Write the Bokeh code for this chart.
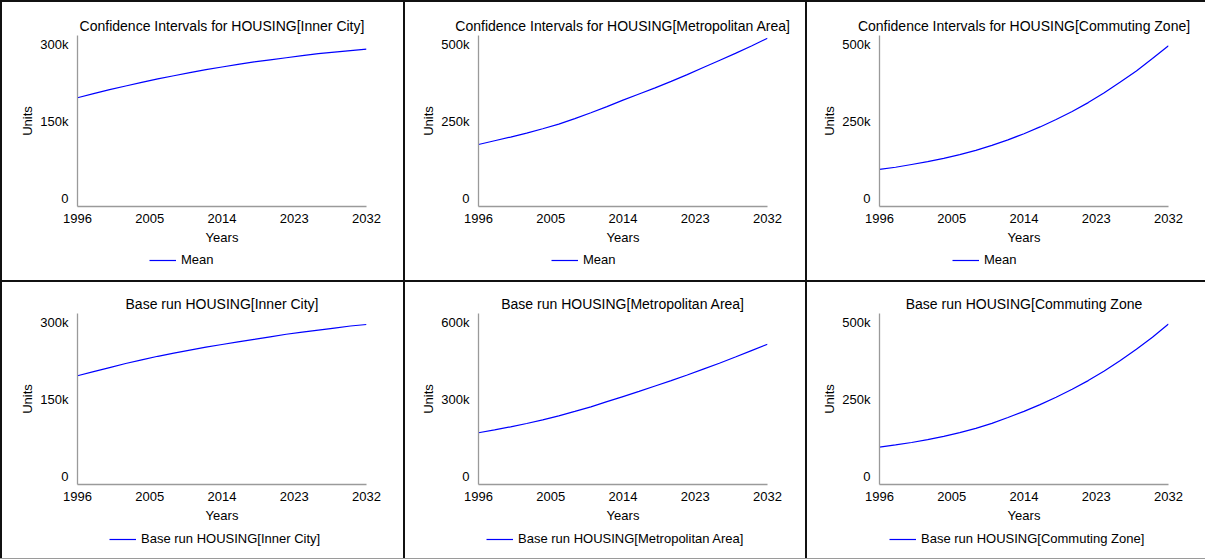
from bokeh.plotting import figure
from bokeh.layouts import column
from bokeh.models import GridBox, Range1d, FixedTicker, Legend, LegendItem
from bokeh.embed import file_html
from bokeh.resources import INLINE

# Simulation output, housing stock (units) per region, 1996-2032
years = [1996, 1998, 2000, 2002, 2004, 2006, 2008, 2010, 2012, 2014,
         2016, 2018, 2020, 2022, 2024, 2026, 2028, 2030, 2032]
x_ticks = [1996, 2005, 2014, 2023, 2032]

mean_inner_city = [196000, 204000, 212000, 219000, 226000, 233000, 239000, 245000, 251000, 256000,
                   261000, 266000, 270000, 274000, 278000, 282000, 285000, 288000, 291000]
mean_metro = [175000, 187000, 199000, 212000, 226000, 241000, 259000, 278000, 298000, 319000,
              339000, 359000, 380000, 402000, 425000, 448000, 471000, 495000, 520000]
mean_commuting = [94000, 101000, 110000, 119000, 130000, 142000, 156000, 172000, 190000, 210000,
                  232000, 256000, 282000, 311000, 343000, 378000, 414000, 454000, 496000]

base_inner_city = [196000, 204000, 212000, 220000, 227000, 234000, 240000, 246000, 252000, 257000,
                   262000, 267000, 272000, 277000, 281000, 285000, 289000, 293000, 296000]
base_metro = [170000, 181000, 193000, 206000, 220000, 236000, 253000, 271000, 291000, 311000,
              331000, 352000, 373000, 395000, 418000, 441000, 465000, 490000, 515000]
base_commuting = [95000, 102000, 110000, 119000, 130000, 142000, 156000, 172000, 191000, 211000,
                  233000, 257000, 283000, 311000, 342000, 376000, 413000, 452000, 495000]

ticks_300k = [0, 150000, 300000]
labels_300k = ["0", "150k", "300k"]
ticks_500k = [0, 250000, 500000]
labels_500k = ["0", "250k", "500k"]
ticks_600k = [0, 300000, 600000]
labels_600k = ["0", "300k", "600k"]

FONT = "Liberation Sans"
FONT_SIZE = "13px"
TITLE_SIZE = "14px"
LINE_COLOR = "#0000ff"
LINE_WIDTH = 1.2
AXIS_COLOR = "#9a9a9a"

col_widths = [401, 400, 398]
row_heights = [278, 276]
plot_heights = [245, 243]
left_borders = [75, 73, 72]
right_borders = [37, 38, 37]
top_borders = [33, 31]
legend_y = [13, 12]

panels = [
    # (row, col, title, values, legend label, ticks, tick labels, legend x)
    (0, 0, "Confidence Intervals for HOUSING[Inner City]", mean_inner_city, "Mean",
     ticks_300k, labels_300k, 72),
    (0, 1, "Confidence Intervals for HOUSING[Metropolitan Area]", mean_metro, "Mean",
     ticks_500k, labels_500k, 73),
    (0, 2, "Confidence Intervals for HOUSING[Commuting Zone]", mean_commuting, "Mean",
     ticks_500k, labels_500k, 73),
    (1, 0, "Base run HOUSING[Inner City]", base_inner_city, "Base run HOUSING[Inner City]",
     ticks_300k, labels_300k, 32),
    (1, 1, "Base run HOUSING[Metropolitan Area]", base_metro, "Base run HOUSING[Metropolitan Area]",
     ticks_600k, labels_600k, 8),
    (1, 2, "Base run HOUSING[Commuting Zone", base_commuting, "Base run HOUSING[Commuting Zone]",
     ticks_500k, labels_500k, 10),
]


def make_chart(row, col, title, values, ticks, tick_labels):
    top = ticks[-1]
    p = figure(
        width=col_widths[col], height=plot_heights[row],
        output_backend="svg", toolbar_location=None,
        x_range=Range1d(years[0], years[-1]),
        y_range=Range1d(-0.053 * top, 1.058 * top),
        min_border_left=left_borders[col], min_border_right=right_borders[col],
        min_border_top=top_borders[row], min_border_bottom=41,
        background_fill_color="white", border_fill_color="white",
        outline_line_color=None,
    )
    p.grid.visible = False

    p.title.text = title
    p.title.align = "center"
    p.title.text_font = FONT
    p.title.text_font_size = TITLE_SIZE
    p.title.text_font_style = "normal"
    p.title.text_color = "black"
    p.title.standoff = 4

    for ax in (p.xaxis[0], p.yaxis[0]):
        ax.axis_line_color = AXIS_COLOR
        ax.axis_line_width = 1.3
        ax.major_tick_line_color = None
        ax.minor_tick_line_color = None
        ax.major_label_text_font = FONT
        ax.major_label_text_font_size = FONT_SIZE
        ax.major_label_text_color = "black"
        ax.axis_label_text_font = FONT
        ax.axis_label_text_font_size = FONT_SIZE
        ax.axis_label_text_font_style = "normal"
        ax.axis_label_text_color = "black"

    p.xaxis.ticker = FixedTicker(ticks=x_ticks)
    p.xaxis.axis_label = "Years"
    p.xaxis.major_label_standoff = 1
    p.xaxis.axis_label_standoff = 4

    p.yaxis.ticker = FixedTicker(ticks=ticks)
    p.yaxis.major_label_overrides = {t: s for t, s in zip(ticks, tick_labels)}
    p.yaxis.axis_label = "Units"
    p.yaxis.major_label_standoff = 3
    p.yaxis.axis_label_standoff = 2

    p.line(years, values, line_color=LINE_COLOR, line_width=LINE_WIDTH)
    return p


def make_legend_strip(row, col, values, label, legend_x):
    # strip under each chart carrying its legend; its frame lines up with the chart's frame
    lf = figure(
        width=col_widths[col], height=row_heights[row] - plot_heights[row],
        output_backend="svg", toolbar_location=None,
        x_range=Range1d(0, 1), y_range=Range1d(0, 1),
        x_axis_type=None, y_axis_type=None,
        min_border_left=left_borders[col], min_border_right=right_borders[col],
        min_border_top=0, min_border_bottom=0,
        background_fill_color="white", border_fill_color="white",
        outline_line_color=None,
    )
    lf.grid.visible = False
    # legend key: the same series, lying outside this strip's visible ranges
    key = lf.line(years, values, line_color=LINE_COLOR, line_width=LINE_WIDTH)
    legend = Legend(
        items=[LegendItem(label=label, renderers=[key])],
        location=(legend_x, legend_y[row]), orientation="horizontal",
        margin=0, padding=5, spacing=0,
        glyph_width=27, glyph_height=14, label_height=14, label_standoff=5,
        label_text_font=FONT, label_text_font_size=FONT_SIZE, label_text_color="black",
        border_line_color=None, background_fill_alpha=0,
    )
    lf.add_layout(legend)
    return lf


children = []
for row, col, title, values, label, ticks, tick_labels, legend_x in panels:
    cell = column(
        make_chart(row, col, title, values, ticks, tick_labels),
        make_legend_strip(row, col, values, label, legend_x),
        spacing=0,
        styles={"background-color": "white"},
    )
    children.append((cell, row, col))

grid = GridBox(
    children=children, spacing=2,
    styles={"background-color": "#111111", "padding": "2px 0px 0px 2px",
            "border-bottom": "1px solid #9a9a9a"},
)

open("out.html", "w").write(file_html(grid, INLINE))
